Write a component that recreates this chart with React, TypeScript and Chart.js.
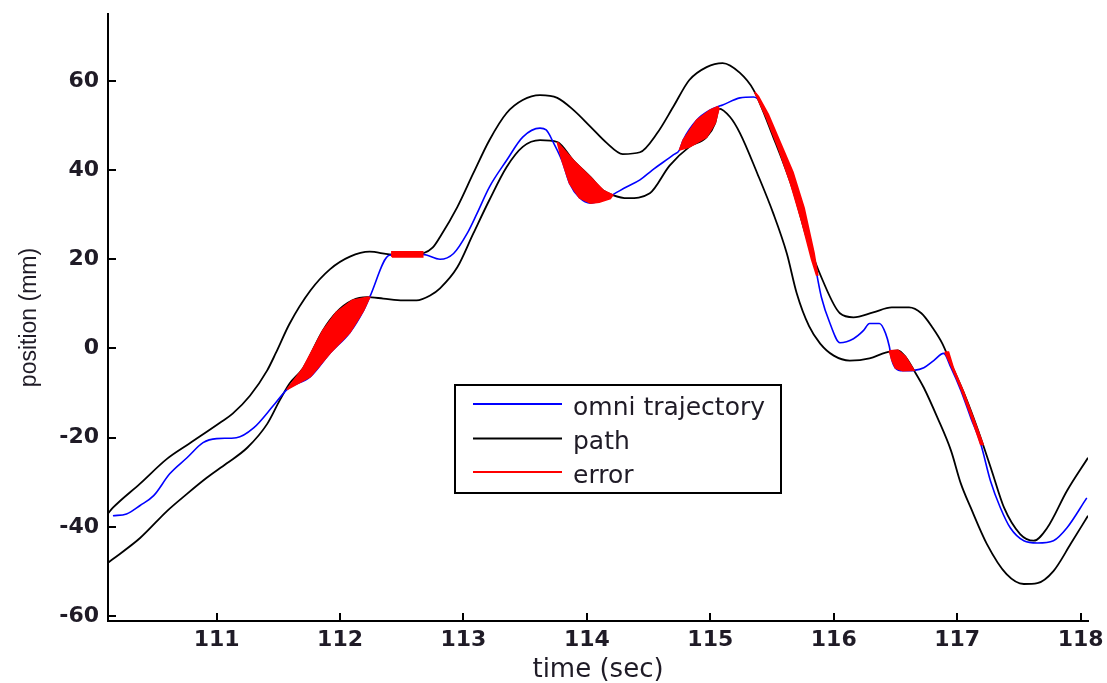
import React, { useEffect, useRef } from "react";
import { Chart, registerables } from "chart.js";

Chart.register(...registerables);

// Axis ticks
const timeTicks = [111, 112, 113, 114, 115, 116, 117, 118];
const timeTickLabels = ["111", "112", "113", "114", "115", "116", "117", "118"];
const positionTicks = [-60, -40, -20, 0, 20, 40, 60];
const positionTickLabels = ["-60", "-40", "-20", "0", "20", "40", "60"];

// omni trajectory (sec, mm)
const trajectoryTime = [
  110.16, 110.27, 110.38, 110.49, 110.62, 110.76, 110.89, 111.0, 111.16, 111.3,
  111.46, 111.57, 111.76, 111.92, 112.08, 112.19, 112.24, 112.4, 112.55, 112.67,
  112.81, 112.92, 113.03, 113.11, 113.21, 113.35, 113.48, 113.62, 113.67, 113.73,
  113.8, 113.86, 113.94, 114.03, 114.1, 114.19, 114.32, 114.43, 114.53, 114.7,
  114.75, 114.78, 114.89, 115.0, 115.06, 115.1, 115.24, 115.35, 115.41, 115.51,
  115.62, 115.73, 115.82, 115.86, 115.9, 115.97, 116.05, 116.16, 116.24, 116.29,
  116.37, 116.42, 116.45, 116.47, 116.5, 116.56, 116.65, 116.73, 116.81, 116.89,
  116.95, 117.03, 117.11, 117.19, 117.27, 117.35, 117.43, 117.54, 117.65, 117.78,
  117.89, 118.05,
];
const trajectoryPos = [
  -37.5, -37.1, -35.2, -33.0, -28.1, -24.5, -21.1, -20.2, -20.0, -17.8,
  -12.8, -9.2, -6.3, -1.0, 3.6, 8.5, 11.5, 20.9, 21.1, 21.1,
  20.0, 21.3, 25.8, 30.3, 36.2, 42.2, 47.4, 49.4, 49.0, 46.1,
  42.0, 37.0, 33.8, 32.6, 33.0, 34.2, 36.2, 37.8, 40.0, 43.4,
  44.5, 46.7, 51.2, 53.5, 54.2, 54.6, 56.2, 56.4, 55.1, 49.0,
  41.6, 33.3, 22.7, 17.0, 11.5, 5.6, 1.3, 2.2, 4.0, 5.6,
  5.6, 3.4, 0.5, -2.5, -4.4, -5.0, -4.9, -4.3, -2.7, -1.1,
  -4.3, -9.4, -15.5, -21.3, -29.7, -35.7, -40.2, -43.1, -43.6, -43.1,
  -40.2, -33.5,
];

// path: upper edge
const pathUpperTime = [
  110.12, 110.16, 110.38, 110.6, 110.78, 111.03, 111.13, 111.27, 111.41, 111.48,
  111.59, 111.76, 111.92, 112.08, 112.24, 112.4, 112.55, 112.67, 112.75, 112.81,
  112.95, 113.08, 113.21, 113.35, 113.48, 113.62, 113.76, 113.89, 114.03, 114.16,
  114.29, 114.43, 114.57, 114.7, 114.83, 114.97, 115.1, 115.24, 115.35, 115.51,
  115.67, 115.78, 115.91, 116.05, 116.16, 116.32, 116.47, 116.61, 116.71, 116.8,
  116.88, 116.95, 117.07, 117.17, 117.28, 117.38, 117.51, 117.62, 117.73, 117.89,
  118.06,
];
const pathUpperPos = [
  -37.0, -35.7, -30.3, -24.7, -21.3, -16.6, -14.6, -10.6, -4.9, -1.0,
  5.5, 13.0, 17.8, 20.6, 21.7, 21.1, 21.0, 21.3, 22.6, 25.0,
  31.7, 39.3, 46.7, 52.8, 55.7, 56.8, 56.2, 53.5, 49.7, 46.1,
  43.6, 44.0, 48.3, 54.2, 60.2, 63.1, 64.0, 61.8, 58.0, 47.4,
  35.5, 24.9, 15.3, 7.9, 7.0, 8.1, 9.2, 9.2, 7.9, 4.7,
  1.1, -3.4, -11.0, -18.4, -27.4, -35.7, -41.6, -43.1, -40.2, -31.9,
  -24.5,
];

// path: lower edge
const pathLowerTime = [
  110.12, 110.16, 110.38, 110.6, 110.76, 110.92, 111.08, 111.25, 111.41, 111.51,
  111.59, 111.7, 111.86, 111.97, 112.1, 112.22, 112.35, 112.51, 112.62, 112.73,
  112.81, 112.95, 113.08, 113.21, 113.35, 113.48, 113.62, 113.76, 113.89, 114.03,
  114.13, 114.21, 114.33, 114.51, 114.67, 114.83, 114.97, 115.04, 115.07, 115.16,
  115.24, 115.38, 115.51, 115.62, 115.7, 115.8, 115.89, 116.0, 116.13, 116.29,
  116.42, 116.52, 116.58, 116.65, 116.73, 116.84, 116.95, 117.03, 117.11, 117.24,
  117.4, 117.54, 117.65, 117.78, 117.92, 118.06,
];
const pathLowerPos = [
  -48.0, -47.2, -42.5, -36.4, -32.6, -29.0, -25.8, -22.2, -16.9, -11.7,
  -7.9, -4.4, 4.0, 8.1, 10.8, 11.5, 11.2, 10.8, 10.8, 11.9,
  13.5, 18.2, 25.8, 33.3, 40.7, 45.2, 46.7, 46.3, 42.2, 38.4,
  35.5, 34.4, 33.7, 34.8, 41.0, 45.2, 47.4, 50.6, 53.8, 51.9,
  48.3, 39.3, 30.3, 21.3, 12.4, 5.0, 1.1, -1.6, -2.7, -2.2,
  -0.9, -0.4, -1.8, -4.9, -8.8, -15.5, -22.9, -30.3, -35.7, -43.8,
  -50.6, -52.8, -52.6, -49.9, -43.8, -37.5,
];

// error patches: outlines of the regions between trajectory and path edge (sec, mm)
const errorPatchA: [number, number][] = [
  [111.57, -9.2], [111.7, -4.4], [111.86, 4.0], [111.97, 8.1], [112.1, 10.8], [112.22, 11.5],
  [112.24, 11.5], [112.19, 8.5], [112.08, 3.6], [111.92, -1.0], [111.76, -6.3], [111.57, -9.2],
];
const errorPatchFlat: [number, number][] = [
  [112.42, 20.5], [112.67, 20.5], [112.67, 21.7], [112.42, 21.7], [112.42, 20.5],
];
const errorPatchB: [number, number][] = [
  [113.76, 46.3], [113.89, 42.2], [114.03, 38.4], [114.13, 35.5], [114.21, 34.4],
  [114.19, 33.6], [114.1, 32.8], [114.03, 32.6], [113.94, 33.8], [113.86, 37.0], [113.8, 42.0], [113.76, 46.3],
];
const errorPatchC: [number, number][] = [
  [114.75, 44.5], [114.78, 46.7], [114.89, 51.2], [115.0, 53.5], [115.06, 54.2],
  [115.07, 53.8], [115.04, 50.6], [114.97, 47.4], [114.83, 45.2], [114.75, 44.5],
];
const errorPatchD: [number, number][] = [
  [115.36, 57.5], [115.45, 52.0], [115.55, 45.0], [115.65, 37.0], [115.74, 28.5], [115.82, 20.0], [115.86, 16.5],
  [115.87, 16.5], [115.84, 21.5], [115.76, 31.5], [115.67, 39.5], [115.57, 46.0], [115.47, 52.5], [115.39, 56.5], [115.36, 57.5],
];
const errorPatchE: [number, number][] = [
  [116.45, -0.5], [116.52, -0.4], [116.58, -1.8], [116.65, -4.9], [116.56, -5.0], [116.5, -4.4], [116.47, -2.5], [116.45, -0.5],
];
const errorPatchF: [number, number][] = [
  [116.9, -0.8], [116.95, -3.8], [117.03, -9.0], [117.11, -15.0], [117.19, -21.5],
  [117.21, -21.5], [117.13, -15.5], [117.05, -9.6], [116.97, -4.4], [116.93, -0.8], [116.9, -0.8],
];
const errorPatches = [errorPatchA, errorPatchFlat, errorPatchB, errorPatchC, errorPatchD, errorPatchE, errorPatchF];

const toPoints = (t: number[], y: number[]) => t.map((x, i) => ({ x, y: y[i] }));

// patches joined into one series, broken by gaps
const errorPoints = errorPatches.flatMap((patch) => [
  ...patch.map(([x, y]) => ({ x, y } as { x: number; y: number | null })),
  { x: patch[patch.length - 1][0], y: null },
]);

const TICK_FONT = { family: "'DejaVu Sans', sans-serif", size: 22, weight: "bold" as const };
const TEXT_COLOR = "#1f1b26";

// legend box drawn inside the axes, MATLAB style
const boxedLegend = {
  id: "boxedLegend",
  afterDraw(chart: Chart) {
    const ctx = chart.ctx;
    const entries = [0, 1, 3].map((i) => chart.data.datasets[i] as any);
    const left = 455, top = 385, right = 781, bottom = 493;
    const rows = [404, 438.5, 472];
    ctx.save();
    ctx.fillStyle = "#ffffff";
    ctx.fillRect(left, top, right - left, bottom - top);
    ctx.strokeStyle = "#000000";
    ctx.lineWidth = 2;
    ctx.strokeRect(left, top, right - left, bottom - top);
    ctx.font = "25px 'DejaVu Sans', sans-serif";
    ctx.textBaseline = "alphabetic";
    ctx.textAlign = "left";
    entries.forEach((ds, k) => {
      const y = rows[k];
      ctx.strokeStyle = ds.borderColor;
      ctx.lineWidth = 2;
      ctx.beginPath();
      ctx.moveTo(473, y);
      ctx.lineTo(562, y);
      ctx.stroke();
      ctx.fillStyle = TEXT_COLOR;
      ctx.fillText(ds.label, 573, y + 10.5);
    });
    ctx.restore();
  },
};

export default function App() {
  const canvasRef = useRef<HTMLCanvasElement>(null);

  useEffect(() => {
    const canvas = canvasRef.current;
    if (!canvas) return;
    const chart = new Chart(canvas, {
      type: "line",
      data: {
        datasets: [
          {
            label: "omni trajectory",
            data: toPoints(trajectoryTime, trajectoryPos),
            borderColor: "#0000ff",
            borderWidth: 1.6,
            pointRadius: 0,
            cubicInterpolationMode: "monotone",
            fill: false,
            order: 1,
          },
          {
            label: "path",
            data: toPoints(pathUpperTime, pathUpperPos),
            borderColor: "#000000",
            borderWidth: 1.8,
            pointRadius: 0,
            cubicInterpolationMode: "monotone",
            fill: false,
            order: 2,
          },
          {
            label: "path",
            data: toPoints(pathLowerTime, pathLowerPos),
            borderColor: "#000000",
            borderWidth: 1.8,
            pointRadius: 0,
            cubicInterpolationMode: "monotone",
            fill: false,
            order: 2,
          },
          {
            label: "error",
            data: errorPoints as any,
            borderColor: "#ff0000",
            backgroundColor: "#ff0000",
            borderWidth: 1.6,
            pointRadius: 0,
            tension: 0,
            spanGaps: false,
            fill: "shape",
            order: 0,
          },
        ],
      },
      options: {
        animation: false,
        responsive: false,
        devicePixelRatio: 1,
        layout: { padding: { top: 14, right: 19, left: 0, bottom: 0 } },
        plugins: {
          legend: { display: false },
          tooltip: { enabled: false },
        },
        events: [],
        scales: {
          x: {
            type: "linear",
            position: "bottom",
            min: 110.12,
            max: 118.06,
            afterBuildTicks: (scale: any) => {
              scale.ticks = timeTicks.map((value) => ({ value }));
            },
            afterFit: (scale: any) => {
              scale.height = 62;
              scale.paddingLeft = 0;
              scale.paddingRight = 0;
            },
            ticks: {
              autoSkip: false,
              maxRotation: 0,
              padding: 14,
              color: TEXT_COLOR,
              font: TICK_FONT,
              callback: (value: any) => {
                const i = timeTicks.indexOf(Number(value));
                return i >= 0 ? timeTickLabels[i] : "";
              },
            },
            grid: {
              display: true,
              drawOnChartArea: false,
              drawTicks: true,
              tickLength: -8,
              color: "#000000",
              lineWidth: 2,
            },
            border: { display: true, color: "#000000", width: 2 },
            title: {
              display: true,
              text: "time (sec)",
              color: TEXT_COLOR,
              font: { family: "'DejaVu Sans', sans-serif", size: 26, lineHeight: 1 },
              padding: { top: 0, bottom: 0 },
            },
          },
          y: {
            type: "linear",
            position: "left",
            min: -61.1,
            max: 75,
            afterBuildTicks: (scale: any) => {
              scale.ticks = positionTicks.map((value) => ({ value }));
            },
            afterFit: (scale: any) => {
              scale.width = 108;
              scale.paddingTop = 0;
              scale.paddingBottom = 0;
            },
            ticks: {
              autoSkip: false,
              padding: 17,
              color: TEXT_COLOR,
              font: TICK_FONT,
              callback: (value: any) => {
                const i = positionTicks.indexOf(Number(value));
                return i >= 0 ? positionTickLabels[i] : "";
              },
            },
            grid: {
              display: true,
              drawOnChartArea: false,
              drawTicks: true,
              tickLength: -8,
              color: "#000000",
              lineWidth: 2,
            },
            border: { display: true, color: "#000000", width: 2 },
            title: {
              display: true,
              text: "position (mm)",
              color: TEXT_COLOR,
              font: { family: "'Liberation Sans', Arial, sans-serif", size: 23, lineHeight: 1 },
              padding: { top: 18, bottom: 0 },
            },
          },
        },
      },
      plugins: [boxedLegend],
    } as any);
    return () => chart.destroy();
  }, []);

  return (
    <div
      style={{
        position: "fixed",
        left: 0,
        top: 0,
        width: 1107,
        height: 683,
        background: "#ffffff",
      }}
    >
      <canvas
        ref={canvasRef}
        width={1107}
        height={683}
        style={{ display: "block", width: 1107, height: 683 }}
      />
    </div>
  );
}
